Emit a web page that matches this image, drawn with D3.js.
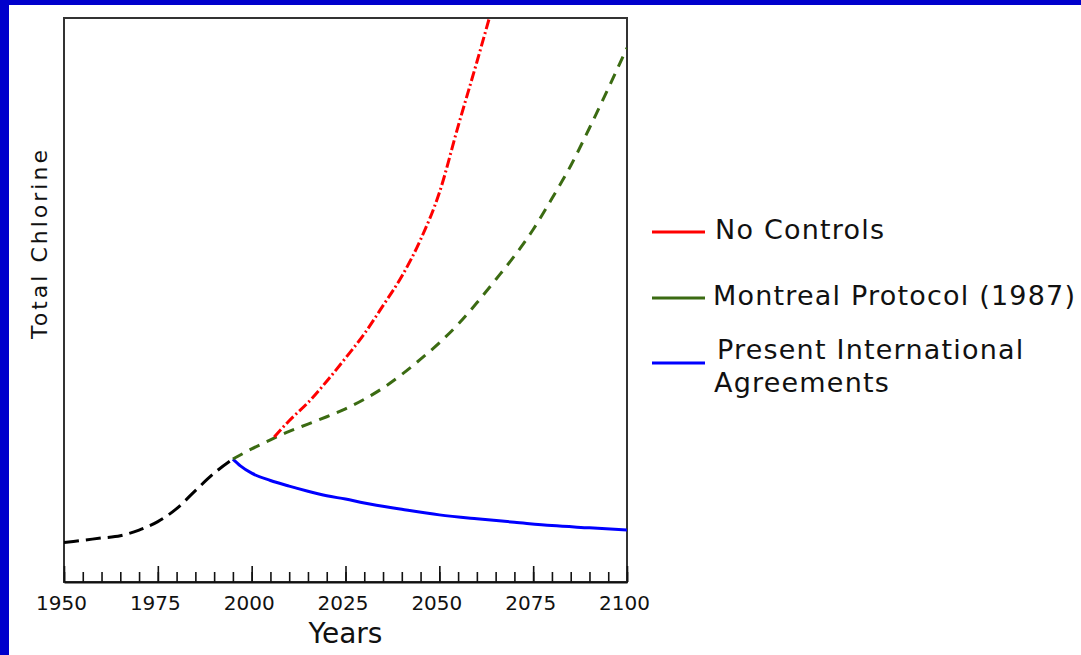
<!DOCTYPE html>
<html lang="en">
<head>
<meta charset="utf-8">
<title>Total Chlorine</title>
<script src="https://cdn.jsdelivr.net/npm/d3@7"></script>
<style>
  html, body { margin: 0; padding: 0; background: #fff; }
  svg { display: block; }
  text { font-family: "DejaVu Sans", sans-serif; fill: #111; }
  .axis path { stroke: #111; stroke-width: 2; }
  .axis line { stroke: #111; stroke-width: 1.6; }
  .axis text { font-size: 20px; }
</style>
</head>
<body>
<script>
// years / relative chlorine (no y units shown on the original)
var pastChlorine = [[1950,0.70],[1955,0.74],[1960,0.78],[1965,0.82],[1970,0.92],[1975,1.07],
                    [1980,1.30],[1985,1.62],[1990,1.93],[1995,2.18]];
var noControls = [[2006,2.57],[2010,2.86],[2015,3.18],[2020,3.56],[2025,3.97],[2030,4.40],
                  [2035,4.90],[2040,5.42],[2045,6.07],[2050,6.90],[2055,8.08],[2060,9.22],[2065,10.40]];
var montreal  = [[1995,2.18],[2000,2.36],[2005,2.52],[2010,2.67],[2015,2.80],[2020,2.93],
                 [2025,3.07],[2030,3.24],[2035,3.44],[2040,3.68],[2045,3.95],[2050,4.24],
                 [2055,4.57],[2060,4.95],[2065,5.36],[2070,5.78],[2075,6.25],[2080,6.80],
                 [2085,7.38],[2090,8.05],[2095,8.75],[2100,9.47]];
var presentAgr = [[1995,2.18],[1997,2.06],[2000,1.93],[2005,1.80],[2010,1.70],[2015,1.61],
                  [2020,1.53],[2025,1.47],[2030,1.40],[2040,1.29],[2050,1.19],[2060,1.12],
                  [2070,1.06],[2080,1.00],[2090,0.96],[2100,0.92]];
var majorTicks = [1950, 1975, 2000, 2025, 2050, 2075, 2100];
var minorTicks = d3.range(1950, 2101, 5);
var legendItems = [
  {lines: ["No Controls"], color: "#ff0000"},
  {lines: ["Montreal Protocol (1987)"], color: "#3b6b12"},
  {lines: ["Present International", "Agreements"], color: "#0000ff"}
];

var W = 1081, H = 655;
var pLeft = 64, pRight = 627, pTop = 18, pBottom = 582;

var svg = d3.select("body").append("svg")
  .attr("width", W).attr("height", H);

// blue slide edge
svg.append("rect").attr("width", W).attr("height", H).attr("fill", "#0000cc");
svg.append("rect").attr("x", 9).attr("y", 5).attr("width", W - 9).attr("height", H - 5).attr("fill", "#fff");

var x = d3.scaleLinear().domain([1950, 2100]).range([pLeft, pRight]);
var y = d3.scaleLinear().domain([0, 10]).range([pBottom, pTop]);

svg.append("defs").append("clipPath").attr("id", "plotclip")
  .append("rect").attr("x", pLeft).attr("y", pTop).attr("width", pRight - pLeft).attr("height", pBottom - pTop);

// frame
svg.append("rect")
  .attr("x", pLeft).attr("y", pTop).attr("width", pRight - pLeft).attr("height", pBottom - pTop)
  .attr("fill", "none").attr("stroke", "#333").attr("stroke-width", 2);

// minor ticks
svg.append("g").attr("class", "axis")
  .attr("transform", "translate(0," + pBottom + ")")
  .call(d3.axisBottom(x).tickValues(minorTicks).tickSizeInner(-10).tickSizeOuter(0).tickFormat(""))
  .select(".domain").remove();

// major ticks + labels
svg.append("g").attr("class", "axis")
  .attr("transform", "translate(0," + pBottom + ")")
  .call(d3.axisBottom(x).tickValues(majorTicks).tickSizeInner(-16).tickSizeOuter(0)
        .tickPadding(14).tickFormat(d3.format("d")))
  .selectAll("text").attr("dx", -3);

svg.append("text")
  .attr("x", (pLeft + pRight) / 2).attr("y", 643)
  .attr("text-anchor", "middle")
  .style("font-size", "28px")
  .text("Years");

svg.append("text")
  .attr("transform", "translate(47,243) rotate(-90)")
  .attr("text-anchor", "middle")
  .style("font-size", "22px")
  .style("letter-spacing", "3px")
  .text("Total Chlorine");

var line = d3.line()
  .x(function(d) { return x(d[0]); })
  .y(function(d) { return y(d[1]); })
  .curve(d3.curveMonotoneX);

var plot = svg.append("g").attr("clip-path", "url(#plotclip)");

function drawSeries(data, color, dash) {
  plot.append("path")
    .datum(data)
    .attr("d", line)
    .attr("fill", "none")
    .attr("stroke", color)
    .attr("stroke-width", 3)
    .attr("stroke-dasharray", dash);
}

drawSeries(pastChlorine, "#000", "15,7");
drawSeries(presentAgr, "#0000ff", null);
drawSeries(montreal, "#3b6b12", "11,8");
drawSeries(noControls, "#ff0000", "10,3,2,3");

// legend
var legendY = [232, 298, 363];
var textX = [715, 713, 717];
var baseY = [238.5, 305, 359];

legendItems.forEach(function(item, i) {
  svg.append("line")
    .attr("x1", 652).attr("x2", 705)
    .attr("y1", legendY[i]).attr("y2", legendY[i])
    .attr("stroke", item.color).attr("stroke-width", 3);
  item.lines.forEach(function(t, j) {
    svg.append("text")
      .attr("x", textX[i] - (j ? 3 : 0)).attr("y", baseY[i] + j * 32.5)
      .style("font-size", "27px")
      .style("letter-spacing", "1.2px")
      .text(t);
  });
});
</script>
</body>
</html>
